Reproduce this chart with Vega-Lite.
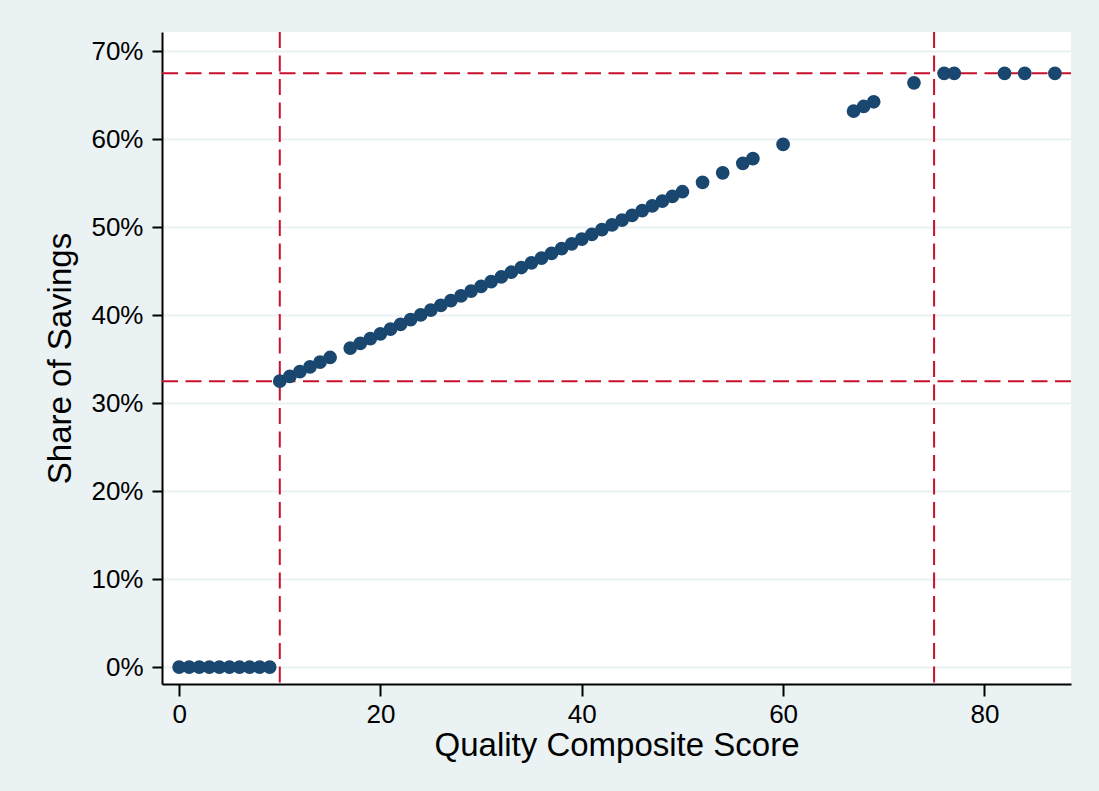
{
  "$schema": "https://vega.github.io/schema/vega-lite/v6.json",
  "width": 909,
  "height": 652,
  "autosize": {"type": "none"},
  "padding": {"left": 162, "top": 32, "right": 28, "bottom": 107},
  "background": "#EAF2F3",
  "config": {
    "view": {"fill": "white", "stroke": null},
    "font": "Liberation Sans",
    "axis": {
      "labelFont": "Liberation Sans",
      "titleFont": "Liberation Sans",
      "labelFontSize": 26,
      "titleFontSize": 33,
      "titleFontWeight": "normal",
      "labelColor": "black",
      "titleColor": "black",
      "domainColor": "black",
      "domainWidth": 2,
      "tickColor": "black",
      "tickWidth": 2
    }
  },
  "datasets": {
    "pts": [
      {"score": 0, "share": 0}, {"score": 1, "share": 0}, {"score": 2, "share": 0}, {"score": 3, "share": 0}, {"score": 4, "share": 0},
      {"score": 5, "share": 0}, {"score": 6, "share": 0}, {"score": 7, "share": 0}, {"score": 8, "share": 0}, {"score": 9, "share": 0},
      {"score": 10, "share": 0.325}, {"score": 11, "share": 0.33038}, {"score": 12, "share": 0.33577}, {"score": 13, "share": 0.34115},
      {"score": 14, "share": 0.34654}, {"score": 15, "share": 0.35192}, {"score": 17, "share": 0.36269}, {"score": 18, "share": 0.36808},
      {"score": 19, "share": 0.37346}, {"score": 20, "share": 0.37885}, {"score": 21, "share": 0.38423}, {"score": 22, "share": 0.38962},
      {"score": 23, "share": 0.395}, {"score": 24, "share": 0.40038}, {"score": 25, "share": 0.40577}, {"score": 26, "share": 0.41115},
      {"score": 27, "share": 0.41654}, {"score": 28, "share": 0.42192}, {"score": 29, "share": 0.42731}, {"score": 30, "share": 0.43269},
      {"score": 31, "share": 0.43808}, {"score": 32, "share": 0.44346}, {"score": 33, "share": 0.44885}, {"score": 34, "share": 0.45423},
      {"score": 35, "share": 0.45962}, {"score": 36, "share": 0.465}, {"score": 37, "share": 0.47038}, {"score": 38, "share": 0.47577},
      {"score": 39, "share": 0.48115}, {"score": 40, "share": 0.48654}, {"score": 41, "share": 0.49192}, {"score": 42, "share": 0.49731},
      {"score": 43, "share": 0.50269}, {"score": 44, "share": 0.50808}, {"score": 45, "share": 0.51346}, {"score": 46, "share": 0.51885},
      {"score": 47, "share": 0.52423}, {"score": 48, "share": 0.52962}, {"score": 49, "share": 0.535}, {"score": 50, "share": 0.54038},
      {"score": 52, "share": 0.55115}, {"score": 54, "share": 0.56192}, {"score": 56, "share": 0.57269}, {"score": 57, "share": 0.57808},
      {"score": 60, "share": 0.59423}, {"score": 67, "share": 0.63192}, {"score": 68, "share": 0.63731}, {"score": 69, "share": 0.64269},
      {"score": 73, "share": 0.66423}, {"score": 76, "share": 0.675}, {"score": 77, "share": 0.675}, {"score": 82, "share": 0.675},
      {"score": 84, "share": 0.675}, {"score": 87, "share": 0.675}
    ],
    "hlines": [{"share": 0.325}, {"share": 0.675}],
    "vlines": [{"score": 10}, {"score": 75}]
  },
  "layer": [
    {
      "data": {"name": "hlines"},
      "mark": {"type": "rule", "color": "#C8102E", "strokeWidth": 2, "strokeDash": [16, 7.5]},
      "encoding": {
        "y": {"field": "share", "type": "quantitative", "scale": {"domain": [-0.0193, 0.722], "nice": false, "zero": false}}
      }
    },
    {
      "data": {"name": "vlines"},
      "mark": {"type": "rule", "color": "#C8102E", "strokeWidth": 2, "strokeDash": [16, 7.5]},
      "encoding": {
        "x": {"field": "score", "type": "quantitative", "scale": {"domain": [-1.7, 88.6], "nice": false, "zero": false}}
      }
    },
    {
      "data": {"name": "pts"},
      "mark": {"type": "point", "shape": "circle", "filled": true, "size": 150, "color": "#1A476F", "opacity": 1, "stroke": "#1A476F", "strokeWidth": 1.5, "strokeOpacity": 1},
      "encoding": {
        "x": {
          "field": "score", "type": "quantitative",
          "scale": {"domain": [-1.7, 88.6], "nice": false, "zero": false},
          "axis": {
            "title": "Quality Composite Score",
            "values": [0, 20, 40, 60, 80],
            "grid": false,
            "tickSize": 12,
            "labelPadding": 5,
            "titleBaseline": "alphabetic",
            "titleY": 71
          }
        },
        "y": {
          "field": "share", "type": "quantitative",
          "scale": {"domain": [-0.0193, 0.722], "nice": false, "zero": false},
          "axis": {
            "title": "Share of Savings",
            "values": [0, 0.1, 0.2, 0.3, 0.4, 0.5, 0.6, 0.7],
            "format": ".0%",
            "grid": true,
            "gridColor": "#EAF2F3",
            "gridWidth": 2,
            "tickSize": 10,
            "labelPadding": 9,
            "titleBaseline": "alphabetic",
            "titleX": -92
          }
        }
      }
    }
  ]
}
